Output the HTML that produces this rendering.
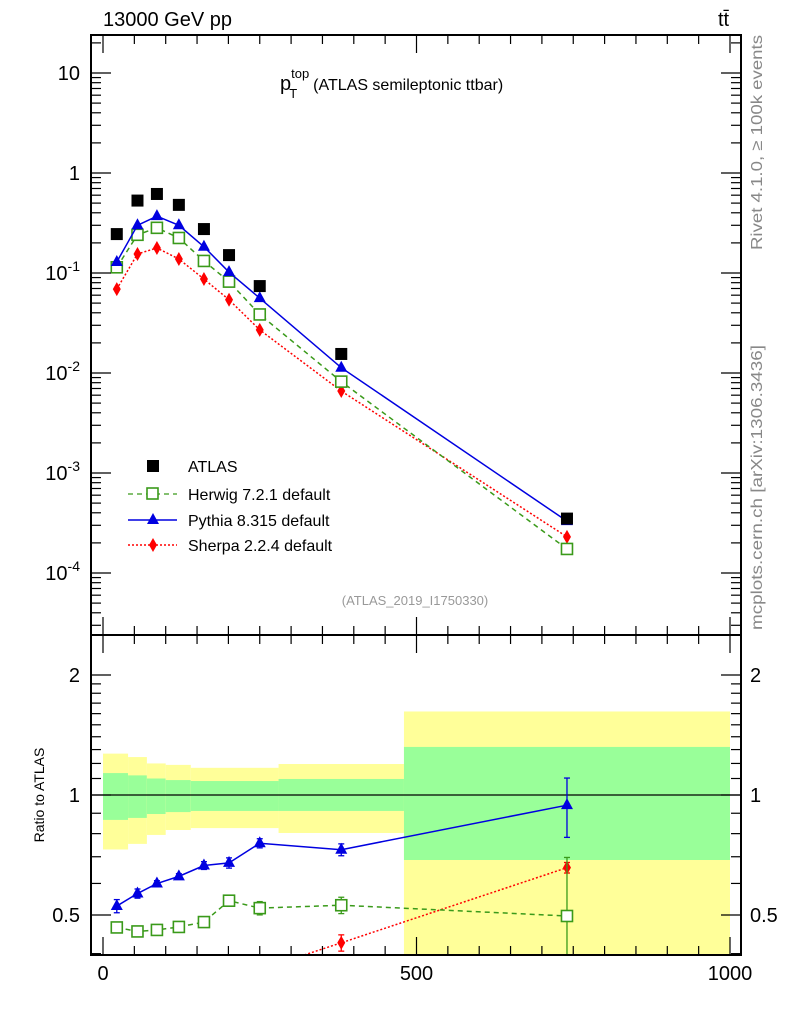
<!DOCTYPE html>
<html><head><meta charset="utf-8"><style>
html,body{margin:0;padding:0;background:#fff;width:786px;height:1024px;overflow:hidden;}
svg{display:block;font-family:"Liberation Sans",sans-serif;overflow:hidden;}
</style></head><body>
<svg id="c" width="786" height="1024" viewBox="0 0 786 1024" xmlns="http://www.w3.org/2000/svg">
<defs>
<clipPath id="cm"><rect x="91" y="35" width="650" height="600"/></clipPath>
<clipPath id="cr"><rect x="91" y="635" width="650" height="320"/></clipPath>
</defs>
<g id="bands" clip-path="url(#cr)"></g>
<g id="marks"></g>
<text x="103" y="26" font-size="20">13000 GeV pp</text>
<text x="718" y="26" font-size="20">tt̄</text>
<text x="280" y="90" font-size="20">p<tspan font-size="13" dy="-12">top</tspan><tspan font-size="13" dx="-20" dy="20">T</tspan><tspan font-size="16" dx="16" dy="-8">(ATLAS semileptonic ttbar)</tspan></text>
<text transform="translate(762,250) rotate(-90)" font-size="16" fill="#888" textLength="215" lengthAdjust="spacingAndGlyphs">Rivet 4.1.0, ≥ 100k events</text>
<text transform="translate(762,630) rotate(-90)" font-size="16" fill="#888" textLength="285" lengthAdjust="spacingAndGlyphs">mcplots.cern.ch [arXiv:1306.3436]</text>
<text x="415" y="605" font-size="13" fill="#999" text-anchor="middle">(ATLAS_2019_I1750330)</text>
<text transform="translate(44,795) rotate(-90)" font-size="14" text-anchor="middle">Ratio to ATLAS</text>
<g>
<rect x="147" y="460" width="12" height="12" fill="#000"/>
<text x="188" y="472" font-size="16">ATLAS</text>
<line x1="128" y1="494" x2="177" y2="494" stroke="#3a9a1a" stroke-width="1.3" stroke-dasharray="5,4"/>
<rect x="147" y="488" width="11" height="11" fill="#fff" stroke="#3a9a1a" stroke-width="1.6"/>
<text x="188" y="500" font-size="16">Herwig 7.2.1 default</text>
<line x1="128" y1="520" x2="177" y2="520" stroke="#0000e0" stroke-width="1.5"/>
<polygon points="153,513 159,524 147,524" fill="#0000e0"/>
<text x="188" y="526" font-size="16">Pythia 8.315 default</text>
<line x1="128" y1="545" x2="177" y2="545" stroke="#f00" stroke-width="1.5" stroke-dasharray="2,2"/>
<polygon points="153,538 157,545 153,552 149,545" fill="#f00"/>
<text x="188" y="551" font-size="16">Sherpa 2.2.4 default</text>
</g>
<g id="axes"></g>
</svg>
<script>
const xCenters=[22,55,86,121,161,201,250,380,740];
const atlas=[0.245,0.53,0.617,0.48,0.275,0.151,0.074,0.0155,0.00035];
const herwig=[0.114,0.241,0.283,0.224,0.132,0.082,0.0385,0.0082,0.000174];
const pythia=[0.129,0.30,0.37,0.30,0.183,0.102,0.056,0.0113,0.00033];
const sherpa=[0.069,0.155,0.178,0.138,0.087,0.054,0.027,0.0066,0.00023];
const herwigRatioErr=[0.01,0.01,0.01,0.01,0.01,0.015,0.02,0.025,0.2];
const pythiaRatioErr=[0.02,0.015,0.01,0.01,0.015,0.02,0.02,0.025,0.16];
const binEdges=[0,40,70,100,140,280,480,1000];
const yellowUp=[1.27,1.245,1.2,1.19,1.17,1.196,1.62];
const greenUp=[1.135,1.12,1.10,1.09,1.084,1.097,1.32];
const greenDn=[0.866,0.876,0.896,0.906,0.912,0.912,0.687];
const yellowDn=[0.73,0.754,0.794,0.817,0.826,0.803,0.1];
const yTickLabelsMain=["10","1","10","10","10","10"];
const NS="http://www.w3.org/2000/svg";
const X=v=>103+v*0.627;
const Y=v=>173-100*Math.log10(v);
const R=r=>795-120*Math.log2(r);
const RC=r=>Math.min(Math.max(R(r),630),960);
function mk(tag,attrs,parent){const e=document.createElementNS(NS,tag);for(const k in attrs)e.setAttribute(k,attrs[k]);parent.appendChild(e);return e;}
const bands=document.getElementById('bands');
const marks=document.getElementById('marks');
const axes=document.getElementById('axes');
for(let i=0;i<binEdges.length-1;i++){
  const x1=X(binEdges[i]),x2=X(binEdges[i+1]);
  let e=mk('rect',{x:x1,y:RC(yellowUp[i]),width:x2-x1,height:RC(yellowDn[i])-RC(yellowUp[i]),fill:'#ffff99'},bands);
  
  
  e=mk('rect',{x:x1,y:RC(greenUp[i]),width:x2-x1,height:RC(greenDn[i])-RC(greenUp[i]),fill:'#99ff99'},bands);
  
  
}
mk('line',{x1:91,y1:R(1),x2:741,y2:R(1),stroke:'#000','stroke-width':1.3},bands);
const gm=mk('g',{'clip-path':'url(#cm)'},marks);
const gr=mk('g',{'clip-path':'url(#cr)'},marks);
function series(vals,color,dash,shape,name){
  const pts=vals.map((v,i)=>X(xCenters[i])+','+Y(v)).join(' ');
  let l=mk('polyline',{points:pts,fill:'none',stroke:color,'stroke-width':1.5,'stroke-dasharray':dash},gm);
  
  
  const rp=vals.map((v,i)=>X(xCenters[i])+','+R(v/atlas[i])).join(' ');
  l=mk('polyline',{points:rp,fill:'none',stroke:color,'stroke-width':1.5,'stroke-dasharray':dash},gr);
  
  
  vals.forEach((v,i)=>{
    drawMarker(gm,shape,X(xCenters[i]),Y(v),color,name+'-point');
    const rr=v/atlas[i];
    const err=name==='herwig'?herwigRatioErr[i]:name==='pythia'?pythiaRatioErr[i]:0.02;
    const x=X(xCenters[i]);
    const yt=RC(rr+err),yb=RC(Math.max(rr-err,0.05));
    const e=mk('line',{x1:x,x2:x,y1:yt,y2:yb,stroke:color,'stroke-width':1.3},gr);
    
    
    mk('line',{x1:x-3,x2:x+3,y1:yt,y2:yt,stroke:color,'stroke-width':1.3},gr);
    mk('line',{x1:x-3,x2:x+3,y1:yb,y2:yb,stroke:color,'stroke-width':1.3},gr);
    drawMarker(gr,shape,x,R(rr),color,name+'-ratio-point');
  });
}
function drawMarker(g,shape,x,y,color,name){
  let e;
  if(shape==='sq') e=mk('rect',{x:x-5.5,y:y-5.5,width:11,height:11,fill:'#fff',stroke:color,'stroke-width':1.6},g);
  else if(shape==='tri') e=mk('polygon',{points:`${x},${y-7} ${x+6},${y+4} ${x-6},${y+4}`,fill:color},g);
  else if(shape==='dia') e=mk('polygon',{points:`${x},${y-7} ${x+4},${y} ${x},${y+7} ${x-4},${y}`,fill:color},g);
  else e=mk('rect',{x:x-6,y:y-6,width:12,height:12,fill:color},g);
  
  
}
series(sherpa,'#f00','2,2','dia','sherpa');
series(herwig,'#3a9a1a','5,4','sq','herwig');
series(pythia,'#0000e0','','tri','pythia');
atlas.forEach((v,i)=>drawMarker(gm,'data',X(xCenters[i]),Y(v),'#000','atlas-point'));
let f=mk('rect',{x:91,y:35,width:650,height:600,fill:'none',stroke:'#000','stroke-width':2},axes);


f=mk('rect',{x:91,y:635,width:650,height:320,fill:'none',stroke:'#000','stroke-width':2},axes);


function tk(x1,y1,x2,y2){mk('line',{x1,y1,x2,y2,stroke:'#000','stroke-width':1.2},axes);}
for(let v=0;v<=1000;v+=50){
  const x=X(v),L=(v%500===0)?18:9;
  tk(x,955,x,955-L);tk(x,635,x,635+L);tk(x,635,x,635-L);tk(x,35,x,35+L);
}
[0,500,1000].forEach(v=>{const t=mk('text',{x:X(v),y:980,'font-size':20,'text-anchor':'middle'},axes);t.textContent=v;

});
for(let d=-5;d<=1;d++){
  for(let m=1;m<10;m++){
    const v=m*Math.pow(10,d),y=Y(v);
    if(y<35||y>635)continue;
    const L=m===1?20:10;
    tk(91,y,91+L,y);tk(741,y,741-L,y);
  }
}
const exps=[1,0,-1,-2,-3,-4];
exps.forEach((e,i)=>{
  const y=Y(Math.pow(10,e));
  const t=mk('text',{x:80,y:y+7,'font-size':20,'text-anchor':'end'},axes);
  
  
  if(e>=0){t.textContent=e===1?'10':'1';}
  else{t.textContent=yTickLabelsMain[i];const s=document.createElementNS(NS,'tspan');s.setAttribute('font-size',14);s.setAttribute('dy',-9);s.textContent=String(e);t.appendChild(s);}
});
const ratioTicks=[0.4,0.5,0.6,0.7,0.8,0.9,1,1.1,1.2,1.3,1.4,1.5,1.6,1.7,1.8,1.9,2,3];
ratioTicks.forEach(r=>{
  const y=R(r);if(y<635||y>955)return;
  const major=(r===0.5||r===1||r===2);
  const L=major?20:10;tk(91,y,91+L,y);tk(741,y,741-L,y);
});
[[0.5,'0.5'],[1,'1'],[2,'2']].forEach(([r,s])=>{
  let t=mk('text',{x:80,y:R(r)+7,'font-size':20,'text-anchor':'end'},axes);t.textContent=s;
  
  
  t=mk('text',{x:750,y:R(r)+7,'font-size':20},axes);t.textContent=s;
  
  
});
</script>
</body></html>
